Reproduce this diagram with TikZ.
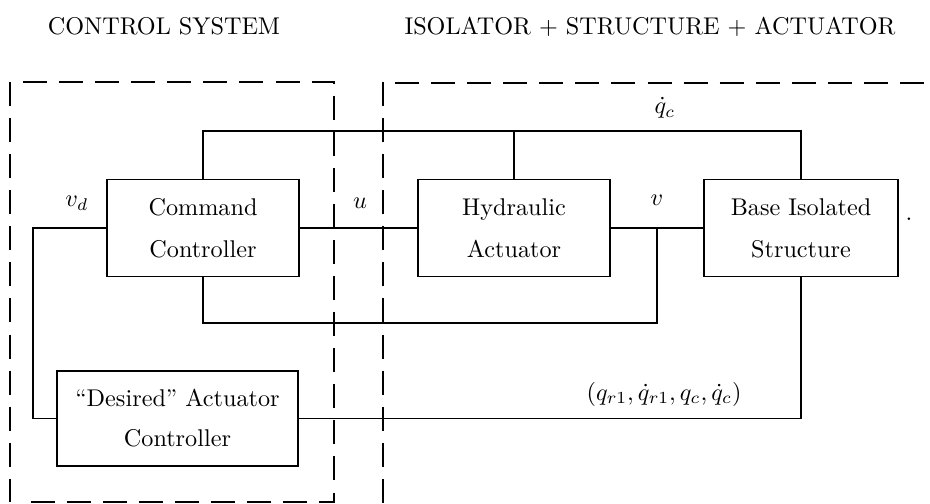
\documentclass[tikz,border=0pt]{standalone}
\usetikzlibrary{positioning,calc}

\begin{document}
\begin{tikzpicture}[
  x=0.413pt, y=-0.413pt,
  font=\rmfamily,
  block/.style={rectangle, draw=black, line width=0.8pt, fill=white, align=center,
    inner sep=0pt, minimum width=192*0.413pt, minimum height=97*0.413pt, text=black},
  wire/.style={draw=black, line width=0.7pt},
  fence/.style={draw=black, line width=0.8pt, dash pattern=on 9.9pt off 5pt},
  sig/.style={inner sep=1pt, text=black},
  heading/.style={anchor=base, text=black},
]
\useasboundingbox (0,0) rectangle (930,504);

% ---- headings ----
\node[heading] (ctrltitle) at (164,35) {CONTROL SYSTEM};
\node[heading] (planttitle) at (650,35) {ISOLATOR $+$ STRUCTURE $+$ ACTUATOR};

% ---- subsystem borders ----
\draw[fence] (23,82) -- (334,82) -- (334,502) -- (20,502);
\draw[fence] (10,82) -- (10,502);
\draw[fence] (383,82) -- (383,504);
\draw[fence] (395,83) -- (930,83);

% ---- blocks ----
\node[block] (command) at (203,228) {Command\\[5.3pt]Controller};
\node[block] (hydraulic) at (514,228) {Hydraulic\\[5.3pt]Actuator};
\node[block, minimum width=194*0.413pt] (structure) at (801,228)
  {Base Isolated\\[5.3pt]Structure};
\node[block, minimum width=241*0.413pt, minimum height=95*0.413pt] (desired)
  at (177.5,418.5) {“Desired” Actuator\\[4.5pt]Controller};

% ---- signal lines ----
\coordinate (qtop) at (514,131);
\coordinate (vbot) at (657,323);
\coordinate (vdleft) at (33,323);

\draw[wire] (command.north) |- (qtop) -| (structure.north);
\draw[wire] (hydraulic.north) -- (qtop);
\draw[wire] (command.east) -- (hydraulic.west);
\draw[wire] (hydraulic.east) -- (structure.west);
\draw[wire] (command.south) |- (vbot) -- (vbot |- hydraulic.east);
\draw[wire] (command.west) -| (vdleft) |- (desired.west);
\draw[wire] (desired.east) -| (structure.south);

% ---- signal labels ----
\node[sig] (vdlabel) at (77,203) {$v_d$};
\node[sig] (ulabel) at (360,203) {$u$};
\node[sig] (vlabel) at (657,200) {$v$};
\node[sig] (qclabel) at (665,108) {$\dot q_c$};
\node[sig] (statelabel) at (664,394) {$(q_{r1},\dot q_{r1},q_c,\dot q_c)$};
\node[sig] (stray) at (909,219) {.};

\end{tikzpicture}
\end{document}
